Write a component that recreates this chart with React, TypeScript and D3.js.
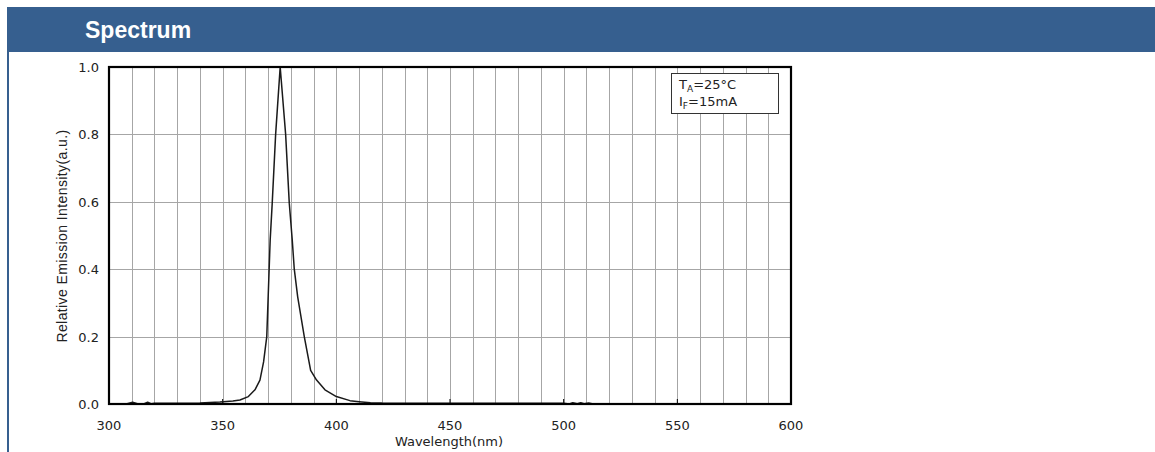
import React, { useEffect, useRef } from 'react';
import * as d3 from 'd3';

// spectrum (nm -> relative intensity)
const wavelengths = [
  300, 308, 310.4, 312.5, 315.5, 317, 318.5, 320, 330, 340, 348.8, 354.5, 357.6, 361.3,
  364.2, 366.4, 368, 369.4, 370.9, 371.8, 373.3, 375.3, 377.7, 379.3, 380.6, 381.5, 383,
  385.9, 388.7, 391.3, 395, 400, 406, 410, 415, 420, 440, 460, 480, 500, 502.5, 504, 506,
  507.5, 509, 511, 513, 600,
];
const intensities = [
  0, 0.001, 0.005, 0.001, 0.001, 0.005, 0.001, 0.002, 0.002, 0.003, 0.006, 0.009, 0.012, 0.022,
  0.042, 0.071, 0.125, 0.2, 0.487, 0.596, 0.8, 1.0, 0.8, 0.596, 0.487, 0.4, 0.318,
  0.2, 0.1, 0.071, 0.042, 0.022, 0.01, 0.007, 0.004, 0.003, 0.002, 0.002, 0.002, 0.002, 0, 0.004, 0.001,
  0.004, 0.001, 0.003, 0, 0,
];

const xTicks = [300, 350, 400, 450, 500, 550, 600];
const yTicks = [0, 0.2, 0.4, 0.6, 0.8, 1.0];
const xGrid = d3.range(300, 601, 10);
const legendLines = [
  { main: 'T', sub: 'A', rest: '=25°C' },
  { main: 'I', sub: 'F', rest: '=15mA' },
];

const W = 1155;
const H = 452;
const plot = { left: 109, right: 791, top: 67, bottom: 404 };

const App: React.FC = () => {
  const svgRef = useRef<SVGSVGElement>(null);

  useEffect(() => {
    if (!svgRef.current) return;
    const svg = d3.select(svgRef.current);
    svg.selectAll('*').remove();

    const x = d3.scaleLinear().domain([300, 600]).range([plot.left, plot.right]);
    const y = d3.scaleLinear().domain([0, 1]).range([plot.bottom, plot.top]);

    // header band + left rule
    svg.append('rect').attr('x', 7).attr('y', 7).attr('width', W - 7).attr('height', 45).attr('fill', '#365f8f');
    svg.append('rect').attr('x', 7).attr('y', 52).attr('width', 2).attr('height', H - 52).attr('fill', '#365f8f');
    svg.append('text')
      .attr('x', 85).attr('y', 38)
      .attr('fill', '#fff')
      .attr('font-family', '"Liberation Sans", Arial, sans-serif')
      .attr('font-weight', 'bold')
      .attr('font-size', 23)
      .text('Spectrum');

    // grid
    svg.append('g')
      .selectAll('line')
      .data(xGrid)
      .enter()
      .append('line')
      .attr('x1', d => Math.round(x(d)) + 0.5)
      .attr('x2', d => Math.round(x(d)) + 0.5)
      .attr('y1', plot.top)
      .attr('y2', plot.bottom)
      .attr('stroke', '#a6a6a6')
      .attr('stroke-width', 1);

    svg.append('g')
      .selectAll('line')
      .data(yTicks)
      .enter()
      .append('line')
      .attr('x1', plot.left)
      .attr('x2', plot.right)
      .attr('y1', d => Math.round(y(d)) + 0.5)
      .attr('y2', d => Math.round(y(d)) + 0.5)
      .attr('stroke', '#a6a6a6')
      .attr('stroke-width', 1);

    // small inward major ticks
    svg.append('g')
      .selectAll('line')
      .data(xTicks)
      .enter()
      .append('line')
      .attr('x1', d => x(d))
      .attr('x2', d => x(d))
      .attr('y1', plot.bottom)
      .attr('y2', plot.bottom - 5)
      .attr('stroke', '#000')
      .attr('stroke-width', 1);

    // curve
    const pts: [number, number][] = wavelengths.map((w, i) => [w, intensities[i]]);
    const line = d3.line<[number, number]>().x(d => x(d[0])).y(d => y(d[1]));
    svg.append('path')
      .attr('d', line(pts) || '')
      .attr('fill', 'none')
      .attr('stroke', '#1a1a1a')
      .attr('stroke-width', 1.5)
      .attr('stroke-linejoin', 'round');

    // frame
    svg.append('rect')
      .attr('x', plot.left)
      .attr('y', plot.top)
      .attr('width', plot.right - plot.left)
      .attr('height', plot.bottom - plot.top)
      .attr('fill', 'none')
      .attr('stroke', '#000')
      .attr('stroke-width', 2.2);

    const tickFont = '"DejaVu Sans", Verdana, sans-serif';

    // tick labels
    svg.append('g')
      .selectAll('text')
      .data(xTicks)
      .enter()
      .append('text')
      .attr('x', d => x(d))
      .attr('y', 430)
      .attr('text-anchor', 'middle')
      .attr('font-family', tickFont)
      .attr('font-size', 13)
      .attr('fill', '#222')
      .text(d => d3.format('d')(d));

    svg.append('g')
      .selectAll('text')
      .data(yTicks)
      .enter()
      .append('text')
      .attr('x', 99)
      .attr('y', d => y(d) + 5)
      .attr('text-anchor', 'end')
      .attr('font-family', tickFont)
      .attr('font-size', 13)
      .attr('fill', '#222')
      .text(d => d3.format('.1f')(d));

    // axis titles
    svg.append('text')
      .attr('x', 449)
      .attr('y', 446)
      .attr('text-anchor', 'middle')
      .attr('font-family', tickFont)
      .attr('font-size', 13)
      .attr('fill', '#222')
      .text('Wavelength(nm)');

    svg.append('text')
      .attr('transform', 'translate(67,236) rotate(-90)')
      .attr('text-anchor', 'middle')
      .attr('font-family', '"Liberation Sans", Arial, sans-serif')
      .attr('font-size', 14)
      .attr('letter-spacing', 0.4)
      .attr('fill', '#222')
      .text('Relative Emission Intensity(a.u.)');

    // legend box
    svg.append('rect')
      .attr('x', 671.5).attr('y', 73.5).attr('width', 107).attr('height', 40)
      .attr('fill', '#fff').attr('stroke', '#333').attr('stroke-width', 1);

    const lg = svg.append('g');
    legendLines.forEach((l, i) => {
      const t = lg.append('text')
        .attr('x', 679)
        .attr('y', 89 + i * 17)
        .attr('font-family', tickFont)
        .attr('font-size', 13)
        .attr('fill', '#222');
      t.append('tspan').text(l.main);
      t.append('tspan').attr('font-size', 9).attr('dy', 3).text(l.sub);
      t.append('tspan').attr('dy', -3).text(l.rest);
    });
  }, []);

  return (
    <svg
      ref={svgRef}
      width={W}
      height={H}
      style={{ position: 'absolute', left: 0, top: 0, background: '#fff' }}
    />
  );
};

export default App;
